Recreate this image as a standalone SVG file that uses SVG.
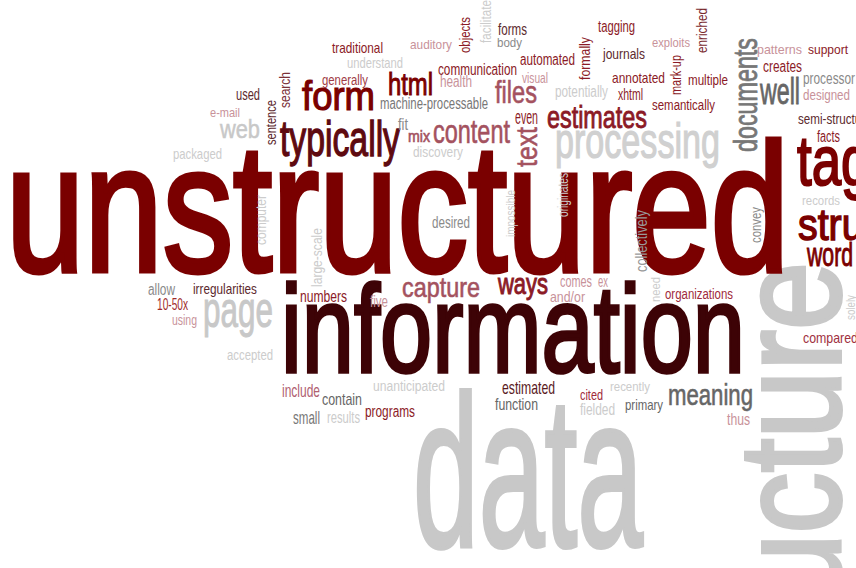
<svg xmlns="http://www.w3.org/2000/svg" width="856" height="568" viewBox="0 0 856 568">
<style>
text{font-family:"Liberation Sans Narrow","Liberation Sans",Arial,sans-serif}
.r0{fill:#7a0000;stroke:#7a0000}.r1{fill:#8b1a26}.r2{fill:#a4525f;stroke:#a4525f;stroke-width:0.6}.r3{fill:#c8929a}
.b0{fill:#3d0306;stroke:#3d0306}.b1{fill:#5c2a2e}.g0{fill:#666}.g1{fill:#8a8a8a}.g2{fill:#cccccc}
.big{fill:#c8c8c8;stroke:#c8c8c8}
</style>
<rect width="856" height="568" fill="#fff"/>
<g id="words">
<!-- big words -->
<text class="big" x="413" y="546" font-size="215" textLength="230" lengthAdjust="spacingAndGlyphs" stroke-width="4">data</text>
<text class="big" transform="translate(840,737) rotate(-90)" font-size="145" textLength="475" lengthAdjust="spacingAndGlyphs" stroke-width="4">structure</text>
<text class="r0" x="6" y="271" font-size="182" textLength="783" lengthAdjust="spacingAndGlyphs" stroke-width="5">unstructured</text>
<text class="b0" x="281" y="372" font-size="125" textLength="464" lengthAdjust="spacingAndGlyphs" stroke-width="3.5">information</text>
<!-- medium words -->
<text class="r0" x="302" y="110" font-size="41" textLength="73" lengthAdjust="spacingAndGlyphs" stroke-width="1.2">form</text>
<text class="r0" x="388" y="95" font-size="32" textLength="45" lengthAdjust="spacingAndGlyphs" stroke-width="1">html</text>
<text x="280" y="156" font-size="50" textLength="120" lengthAdjust="spacingAndGlyphs" style="fill:#5e0a10;stroke:#5e0a10;stroke-width:1.4">typically</text>
<text class="r2" x="495" y="103" font-size="31" textLength="42" lengthAdjust="spacingAndGlyphs">files</text>
<text x="547" y="128" font-size="32" textLength="100" lengthAdjust="spacingAndGlyphs" style="fill:#8b1a26;stroke:#8b1a26;stroke-width:0.9">estimates</text>
<text class="big" x="555" y="158" font-size="50" textLength="165" lengthAdjust="spacingAndGlyphs" stroke-width="1.2" style="fill:#d0d0d0;stroke:#d0d0d0">processing</text>
<text class="r2" x="433" y="143" font-size="33" textLength="77" lengthAdjust="spacingAndGlyphs">content</text>
<text x="760" y="104" font-size="36" textLength="40" lengthAdjust="spacingAndGlyphs" style="fill:#666;stroke:#666;stroke-width:0.8">well</text>
<text transform="translate(757,152) rotate(-90)" font-size="34" textLength="114" lengthAdjust="spacingAndGlyphs" style="fill:#777;stroke:#777;stroke-width:0.8">documents</text>
<text class="r0" x="797" y="185" font-size="70" textLength="100" lengthAdjust="spacingAndGlyphs" stroke-width="2">tags</text>
<text class="r0" x="798" y="240" font-size="44" textLength="175" lengthAdjust="spacingAndGlyphs" stroke-width="1.4">structured</text>
<text class="r0" x="807" y="266" font-size="34" textLength="46" lengthAdjust="spacingAndGlyphs" stroke-width="1">word</text>
<text class="big" x="220" y="138" font-size="25" textLength="40" lengthAdjust="spacingAndGlyphs" stroke-width="0.5">web</text>
<text class="big" x="203" y="327" font-size="50" textLength="70" lengthAdjust="spacingAndGlyphs" stroke-width="1">page</text>
<text class="r2" x="402" y="297" font-size="28" textLength="78" lengthAdjust="spacingAndGlyphs">capture</text>
<text x="498" y="294" font-size="29" textLength="50" lengthAdjust="spacingAndGlyphs" style="fill:#8b1a26;stroke:#8b1a26;stroke-width:1">ways</text>
<text x="668" y="405" font-size="29" textLength="85" lengthAdjust="spacingAndGlyphs" style="fill:#666;stroke:#666;stroke-width:0.6">meaning</text>
<text class="r2" transform="translate(537,167) rotate(-90)" font-size="30" textLength="40" lengthAdjust="spacingAndGlyphs">text</text>
<!-- small words, top -->
<text class="r1" x="332" y="53" font-size="15" textLength="51" lengthAdjust="spacingAndGlyphs">traditional</text>
<text class="g2" x="347" y="68" font-size="15" textLength="56" lengthAdjust="spacingAndGlyphs">understand</text>
<text class="r3" x="410" y="49" font-size="13" textLength="42" lengthAdjust="spacingAndGlyphs">auditory</text>
<text x="322" y="85" font-size="14" textLength="46" lengthAdjust="spacingAndGlyphs" style="fill:#a03c46">generally</text>
<text class="b1" x="236" y="100" font-size="16" textLength="24" lengthAdjust="spacingAndGlyphs">used</text>
<text x="380" y="109" font-size="16" textLength="108" lengthAdjust="spacingAndGlyphs" style="fill:#777">machine-processable</text>
<text class="r3" x="210" y="117" font-size="13.5" textLength="30" lengthAdjust="spacingAndGlyphs">e-mail</text>
<text class="g1" x="398" y="130" font-size="16" textLength="10" lengthAdjust="spacingAndGlyphs">fit</text>
<text class="g2" x="173" y="159" font-size="15" textLength="49" lengthAdjust="spacingAndGlyphs">packaged</text>
<text class="b1" x="498" y="35" font-size="16" textLength="29" lengthAdjust="spacingAndGlyphs">forms</text>
<text class="g1" x="497" y="47" font-size="13" textLength="25" lengthAdjust="spacingAndGlyphs">body</text>
<text class="r1" x="520" y="65" font-size="16" textLength="55" lengthAdjust="spacingAndGlyphs">automated</text>
<text class="r1" x="438" y="75" font-size="16" textLength="79" lengthAdjust="spacingAndGlyphs">communication</text>
<text class="r3" x="440" y="87" font-size="16" textLength="32" lengthAdjust="spacingAndGlyphs">health</text>
<text class="r3" x="522" y="83" font-size="15" textLength="26" lengthAdjust="spacingAndGlyphs">visual</text>
<text class="g2" x="555" y="97" font-size="16" textLength="53" lengthAdjust="spacingAndGlyphs">potentially</text>
<text class="r1" x="598" y="32" font-size="16" textLength="37" lengthAdjust="spacingAndGlyphs">tagging</text>
<text class="b1" x="603" y="59" font-size="15" textLength="42" lengthAdjust="spacingAndGlyphs">journals</text>
<text class="r3" x="652" y="47" font-size="13" textLength="38" lengthAdjust="spacingAndGlyphs">exploits</text>
<text class="r1" x="612" y="83" font-size="15" textLength="53" lengthAdjust="spacingAndGlyphs">annotated</text>
<text class="r1" x="688" y="85" font-size="14" textLength="40" lengthAdjust="spacingAndGlyphs">multiple</text>
<text class="r1" x="618" y="100" font-size="16" textLength="25" lengthAdjust="spacingAndGlyphs">xhtml</text>
<text class="r1" x="652" y="110" font-size="14" textLength="63" lengthAdjust="spacingAndGlyphs">semantically</text>
<text class="r3" x="757" y="54" font-size="13" textLength="45" lengthAdjust="spacingAndGlyphs">patterns</text>
<text class="r1" x="808" y="54" font-size="13" textLength="40" lengthAdjust="spacingAndGlyphs">support</text>
<text class="r1" x="763" y="72" font-size="16" textLength="39" lengthAdjust="spacingAndGlyphs">creates</text>
<text class="g1" x="803" y="84" font-size="17" textLength="52" lengthAdjust="spacingAndGlyphs">processor</text>
<text class="r3" x="803" y="100" font-size="14" textLength="47" lengthAdjust="spacingAndGlyphs">designed</text>
<text class="b1" x="798" y="124" font-size="15" textLength="80" lengthAdjust="spacingAndGlyphs">semi-structured</text>
<text class="r1" x="817" y="142" font-size="16" textLength="23" lengthAdjust="spacingAndGlyphs">facts</text>
<text class="g2" x="802" y="205" font-size="13" textLength="38" lengthAdjust="spacingAndGlyphs">records</text>
<text class="r1" x="515" y="124" font-size="20" textLength="23" lengthAdjust="spacingAndGlyphs">even</text>
<text class="r2" x="408" y="142" font-size="16" textLength="22" lengthAdjust="spacingAndGlyphs">mix</text>
<text class="g2" x="413" y="157" font-size="14" textLength="50" lengthAdjust="spacingAndGlyphs">discovery</text>
<text class="g1" x="432" y="228" font-size="17" textLength="38" lengthAdjust="spacingAndGlyphs">desired</text>
<!-- small words, lower -->
<text class="g1" x="148" y="295" font-size="16" textLength="27" lengthAdjust="spacingAndGlyphs">allow</text>
<text class="b1" x="193" y="294" font-size="15" textLength="64" lengthAdjust="spacingAndGlyphs">irregularities</text>
<text x="157" y="310" font-size="17" textLength="31" lengthAdjust="spacingAndGlyphs" style="fill:#a02a2a">10-50x</text>
<text class="r3" x="172" y="325" font-size="14" textLength="25" lengthAdjust="spacingAndGlyphs">using</text>
<text class="g2" x="227" y="360" font-size="14" textLength="46" lengthAdjust="spacingAndGlyphs">accepted</text>
<text class="r1" x="300" y="302" font-size="16" textLength="47" lengthAdjust="spacingAndGlyphs">numbers</text>
<text class="r3" x="370" y="307" font-size="16" textLength="18" lengthAdjust="spacingAndGlyphs">five</text>
<text class="r3" x="560" y="287" font-size="17" textLength="32" lengthAdjust="spacingAndGlyphs">comes</text>
<text class="r3" x="598" y="287" font-size="17" textLength="10" lengthAdjust="spacingAndGlyphs">ex</text>
<text class="r3" x="550" y="302" font-size="15" textLength="35" lengthAdjust="spacingAndGlyphs">and/or</text>
<text x="665" y="299" font-size="14" textLength="68" lengthAdjust="spacingAndGlyphs" style="fill:#a02a3a">organizations</text>
<text x="803" y="343" font-size="15" textLength="55" lengthAdjust="spacingAndGlyphs" style="fill:#a03040">compared</text>
<text x="580" y="400" font-size="14" textLength="23" lengthAdjust="spacingAndGlyphs" style="fill:#a02a3a">cited</text>
<text class="g2" x="610" y="391" font-size="13" textLength="40" lengthAdjust="spacingAndGlyphs">recently</text>
<text class="g2" x="580" y="415" font-size="16" textLength="35" lengthAdjust="spacingAndGlyphs">fielded</text>
<text class="g0" x="625" y="410" font-size="15" textLength="38" lengthAdjust="spacingAndGlyphs">primary</text>
<text class="r3" x="727" y="425" font-size="16" textLength="23" lengthAdjust="spacingAndGlyphs">thus</text>
<text x="282" y="397" font-size="19" textLength="38" lengthAdjust="spacingAndGlyphs" style="fill:#b06070">include</text>
<text class="g0" x="322" y="405" font-size="17" textLength="40" lengthAdjust="spacingAndGlyphs">contain</text>
<text x="293" y="424" font-size="19" textLength="27" lengthAdjust="spacingAndGlyphs" style="fill:#777">small</text>
<text class="g2" x="327" y="423" font-size="17" textLength="33" lengthAdjust="spacingAndGlyphs">results</text>
<text class="g2" x="373" y="391" font-size="14" textLength="72" lengthAdjust="spacingAndGlyphs">unanticipated</text>
<text class="r1" x="365" y="417" font-size="16" textLength="50" lengthAdjust="spacingAndGlyphs">programs</text>
<text x="502" y="394" font-size="19" textLength="53" lengthAdjust="spacingAndGlyphs" style="fill:#5a1a1e">estimated</text>
<text class="g0" x="495" y="410" font-size="17" textLength="43" lengthAdjust="spacingAndGlyphs">function</text>
<!-- vertical small words -->
<text transform="translate(290,108) rotate(-90)" font-size="15" textLength="36" lengthAdjust="spacingAndGlyphs" style="fill:#7a3036">search</text>
<text class="b1" transform="translate(276,145) rotate(-90)" font-size="14" textLength="45" lengthAdjust="spacingAndGlyphs">sentence</text>
<text class="g2" transform="translate(266,245) rotate(-90)" font-size="15" textLength="50" lengthAdjust="spacingAndGlyphs">computer</text>
<text class="g2" transform="translate(322,287) rotate(-90)" font-size="15" textLength="59" lengthAdjust="spacingAndGlyphs">large-scale</text>
<text class="r1" transform="translate(470,53) rotate(-90)" font-size="15" textLength="36" lengthAdjust="spacingAndGlyphs">objects</text>
<text class="g2" transform="translate(491,43) rotate(-90)" font-size="15" textLength="43" lengthAdjust="spacingAndGlyphs">facilitate</text>
<text class="r1" transform="translate(590,80) rotate(-90)" font-size="15" textLength="43" lengthAdjust="spacingAndGlyphs">formally</text>
<text transform="translate(707,53) rotate(-90)" font-size="15" textLength="45" lengthAdjust="spacingAndGlyphs" style="fill:#7a2a2e">enriched</text>
<text class="r1" transform="translate(681,95) rotate(-90)" font-size="14" textLength="40" lengthAdjust="spacingAndGlyphs">mark-up</text>
<text class="g2" transform="translate(568,217) rotate(-90)" font-size="14" textLength="44" lengthAdjust="spacingAndGlyphs">originates</text>
<text class="g2" transform="translate(515,237) rotate(-90)" font-size="13" textLength="47" lengthAdjust="spacingAndGlyphs">impossible</text>
<text transform="translate(647,272) rotate(-90)" font-size="16" textLength="62" lengthAdjust="spacingAndGlyphs" style="fill:#999">collectively</text>
<text class="g1" transform="translate(761,243) rotate(-90)" font-size="14" textLength="36" lengthAdjust="spacingAndGlyphs">convey</text>
<text class="g2" transform="translate(660,302) rotate(-90)" font-size="12" textLength="25" lengthAdjust="spacingAndGlyphs">need</text>
<text class="g2" transform="translate(855,320) rotate(-90)" font-size="12" textLength="25" lengthAdjust="spacingAndGlyphs">solely</text>
</g>
</svg>
